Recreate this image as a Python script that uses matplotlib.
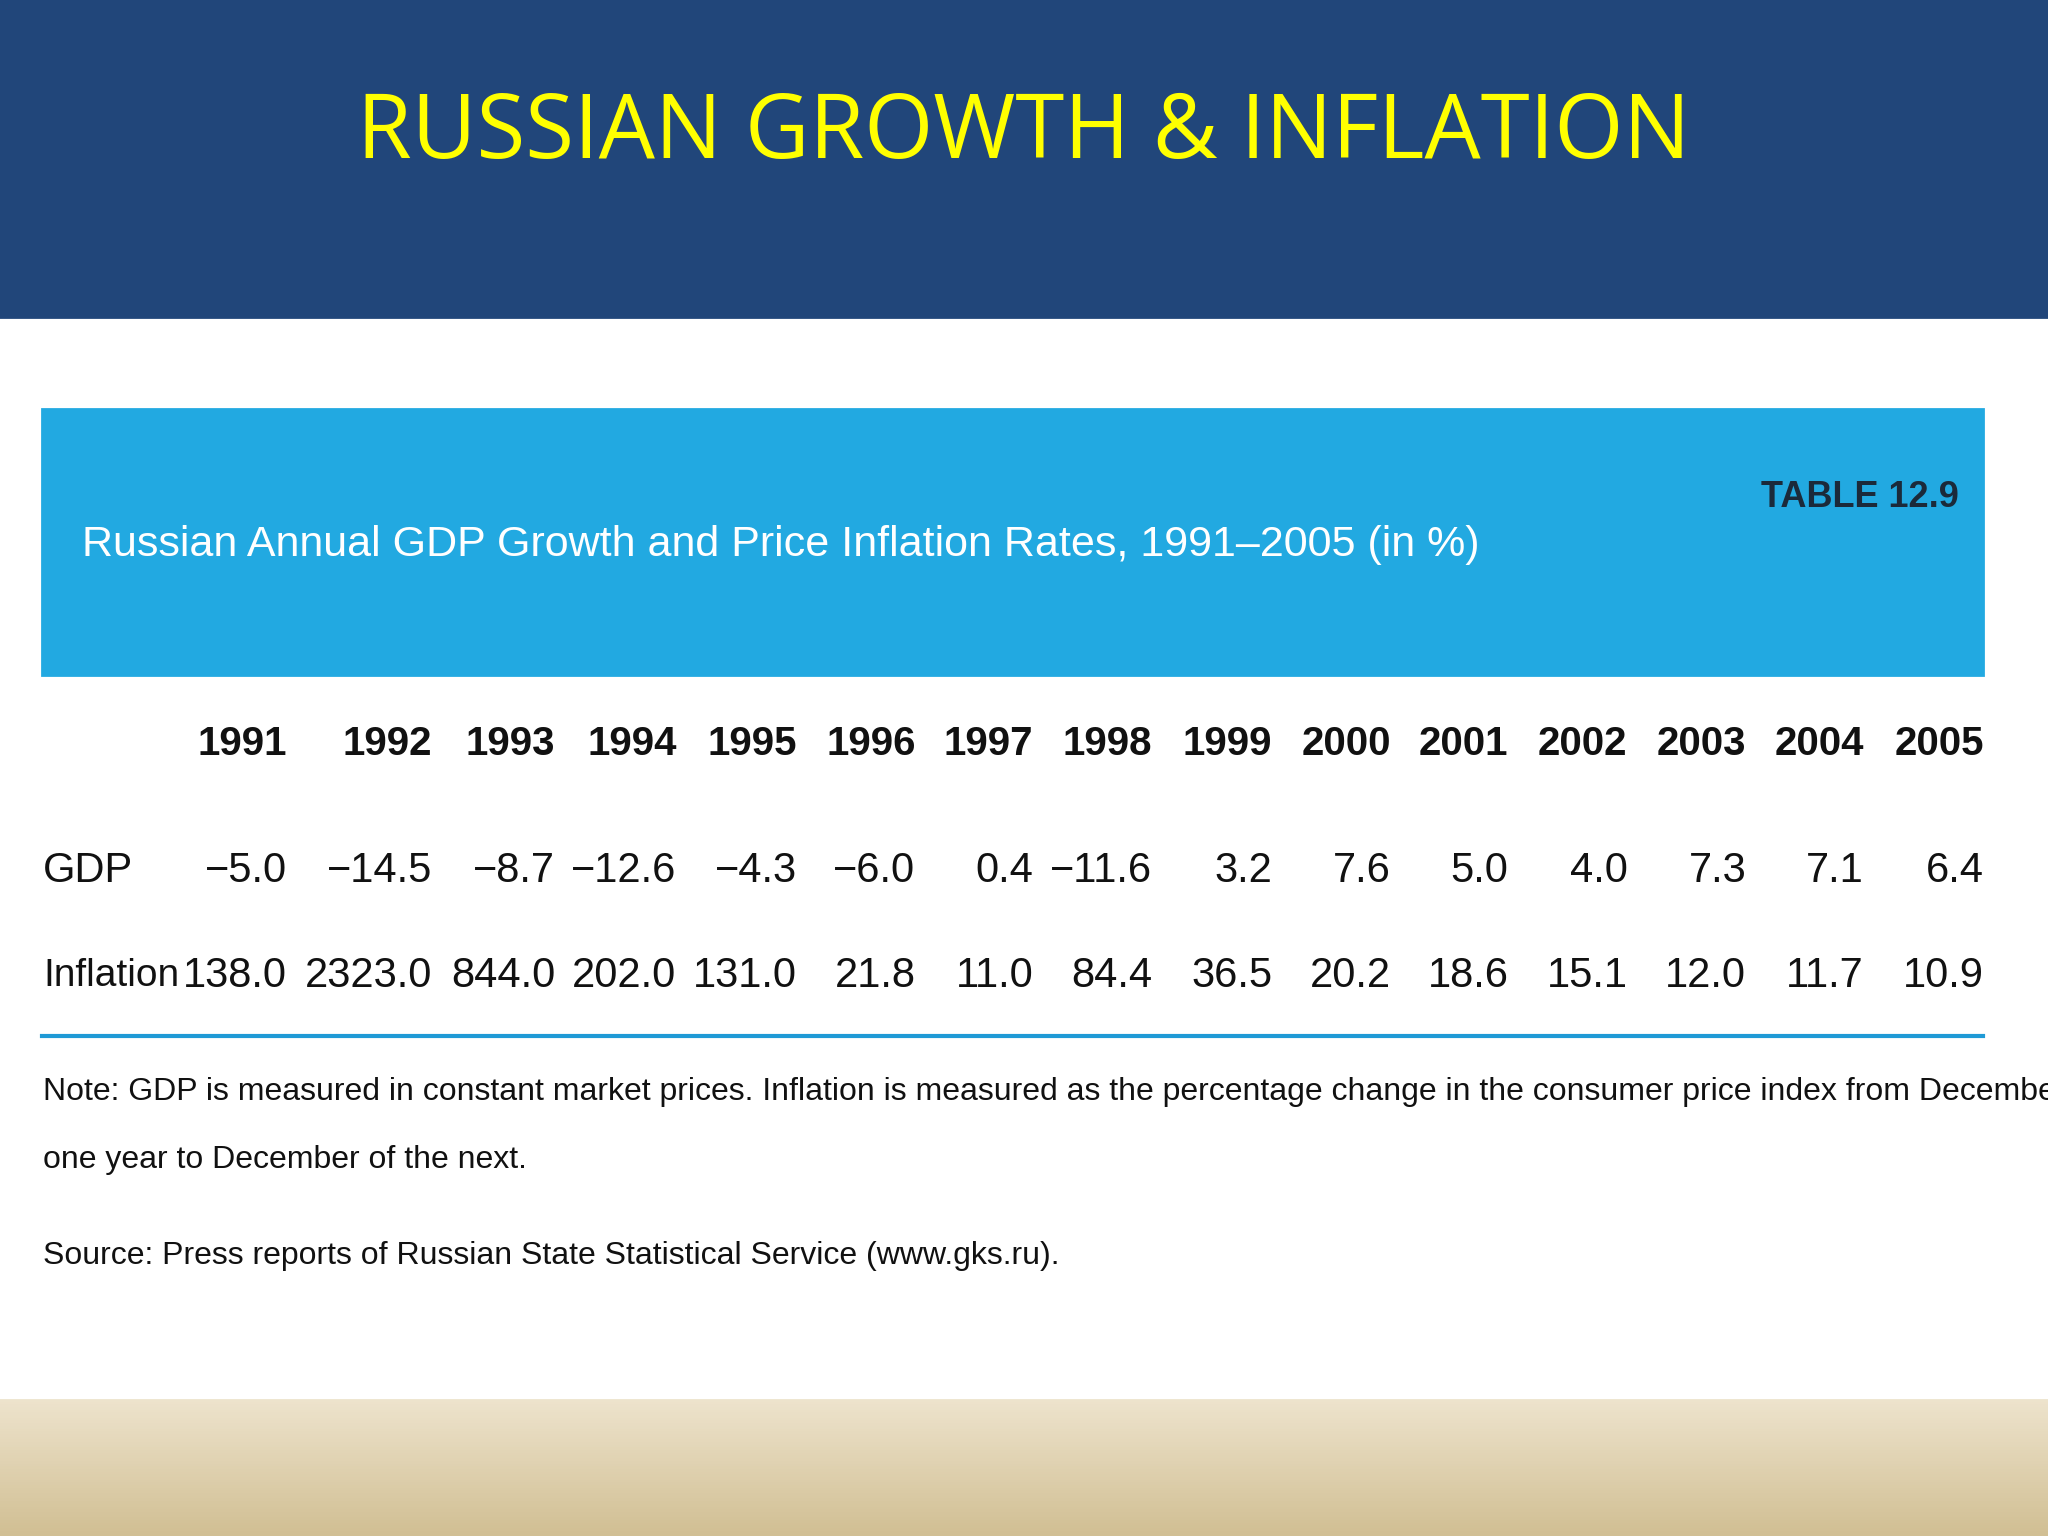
import matplotlib
matplotlib.use("Agg")
import matplotlib.pyplot as plt
from matplotlib.patches import Rectangle
import numpy as np

years = ["1991","1992","1993","1994","1995","1996","1997","1998","1999","2000","2001","2002","2003","2004","2005"]
gdp = ["\u22125.0","\u221214.5","\u22128.7","\u221212.6","\u22124.3","\u22126.0","0.4","\u221211.6","3.2","7.6","5.0","4.0","7.3","7.1","6.4"]
inflation = ["138.0","2323.0","844.0","202.0","131.0","21.8","11.0","84.4","36.5","20.2","18.6","15.1","12.0","11.7","10.9"]
col_right_px = [220,331,425,518,610,701,791,882,974,1065,1155,1246,1337,1427,1519]

W, H = 1568, 1176
NARROW = ["Liberation Sans Narrow", "Liberation Sans", "DejaVu Sans"]

fig = plt.figure(figsize=(10.24, 7.68), dpi=200)
def fx(x): return x / W
def fy(y): return 1 - y / H

fig.patches.append(Rectangle((0, fy(243)), 1, 243 / H, transform=fig.transFigure, color="#21467a", zorder=0))
grad = np.linspace(0, 1, 50)
for i in range(50):
    y0 = 1073 + i * (103 / 50)
    c = np.array([0.93, 0.89, 0.80]) * (1 - grad[i]) + np.array([0.82, 0.75, 0.58]) * grad[i]
    fig.patches.append(Rectangle((0, fy(y0 + 103 / 50)), 1, 103 / 50 / H + 0.001, transform=fig.transFigure, color=c, zorder=0))
fig.patches.append(Rectangle((fx(32), fy(517)), (1518 - 32) / W, (517 - 313) / H, transform=fig.transFigure, color="#22a9e1", zorder=1))

fig.text(0.5, fy(103), "RUSSIAN GROWTH & INFLATION", color="#ffff00", fontsize=32, ha="center", va="center", family=["Open Sans", "DejaVu Sans"])
fig.text(fx(63), fy(417), "Russian Annual GDP Growth and Price Inflation Rates, 1991\u20132005 (in %)", color="white", fontsize=15.5, ha="left", va="center", family=NARROW, zorder=3)
fig.text(fx(1500), fy(381), "TABLE 12.9", color="#1b2a3a", fontsize=13, fontweight="bold", ha="right", va="center", family=NARROW, zorder=3)

for yr, g, inf, xr in zip(years, gdp, inflation, col_right_px):
    fig.text(fx(xr), fy(570), yr, fontsize=14.5, fontweight="bold", ha="right", va="center", family=NARROW, color="#111")
    fig.text(fx(xr), fy(667), g, fontsize=15, ha="right", va="center", family=NARROW, color="#111")
    fig.text(fx(xr), fy(747), inf, fontsize=15, ha="right", va="center", family=NARROW, color="#111")
fig.text(fx(33), fy(667), "GDP", fontsize=15, ha="left", va="center", family=NARROW, color="#111")
fig.text(fx(33), fy(747), "Inflation", fontsize=14, ha="left", va="center", family=NARROW, color="#111")
fig.lines.append(plt.Line2D([fx(32), fx(1518)], [fy(793), fy(793)], transform=fig.transFigure, color="#1f9ad6", lw=1.5))

fig.text(fx(33), fy(836), "Note: GDP is measured in constant market prices. Inflation is measured as the percentage change in the consumer price index from December of", fontsize=11.5, ha="left", va="center", family=NARROW, color="#111")
fig.text(fx(33), fy(888), "one year to December of the next.", fontsize=11.5, ha="left", va="center", family=NARROW, color="#111")
fig.text(fx(33), fy(962), "Source: Press reports of Russian State Statistical Service (www.gks.ru).", fontsize=11.5, ha="left", va="center", family=NARROW, color="#111")

fig.savefig("out.png", dpi=200)
